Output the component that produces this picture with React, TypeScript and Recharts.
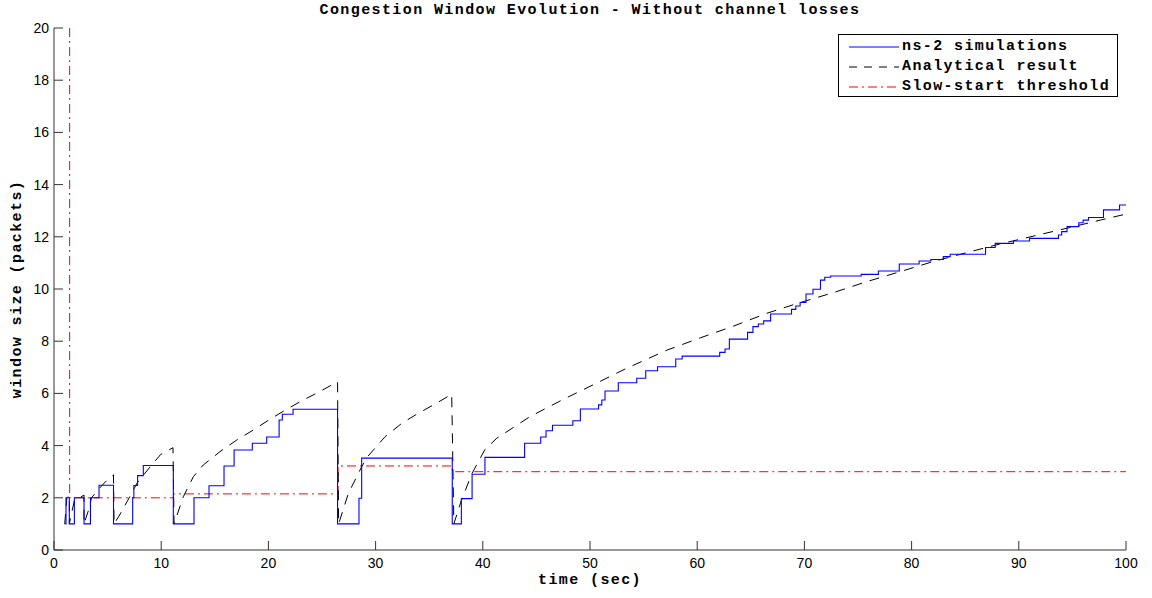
import { LineChart, Line, XAxis, YAxis } from 'recharts';

// ns-2 simulated congestion window: [time (s), window after change]
const simSteps: [number, number][] = [
  [1.0, 1], [1.12, 2], [1.43, 1], [1.9, 2], [2.8, 1], [3.4, 2], [4.2, 2.48], [5.55, 1],
  [7.34, 2.0], [7.45, 2.47], [7.8, 2.85], [8.33, 3.24], [11.13, 1], [13.06, 2.0], [14.46, 2.46],
  [15.86, 3.22], [16.8, 3.83], [18.5, 4.09], [19.84, 4.33], [21.0, 4.98], [21.3, 5.2], [22.3, 5.39],
  [26.45, 1], [28.45, 1.98], [28.7, 3.52], [37.15, 1], [38.0, 1.97], [39.0, 2.9], [40.2, 3.55],
  [43.9, 4.09], [45.4, 4.33], [45.9, 4.57], [46.5, 4.78], [48.4, 4.95], [49.1, 5.4], [50.8, 5.56],
  [51.1, 5.75], [51.4, 6.09], [52.64, 6.41], [54.36, 6.58], [55.2, 6.87], [56.3, 7.02], [58.0, 7.32],
  [58.6, 7.43], [62.1, 7.57], [62.6, 7.7], [63.0, 8.08], [64.7, 8.34], [65.2, 8.56], [65.7, 8.66],
  [66.2, 8.78], [66.85, 9.04], [68.8, 9.22], [69.2, 9.35], [69.6, 9.48], [70.15, 9.81], [70.8, 9.99],
  [71.5, 10.34], [71.9, 10.45], [72.45, 10.5], [75.3, 10.56], [76.9, 10.69], [78.85, 10.96],
  [80.7, 11.07], [81.8, 11.13], [82.96, 11.24], [83.6, 11.33], [86.9, 11.59], [87.8, 11.75],
  [89.5, 11.84], [91.0, 11.94], [93.7, 12.07], [94.0, 12.2], [94.5, 12.39], [95.6, 12.54],
  [96.0, 12.64], [96.5, 12.74], [97.9, 13.03], [99.4, 13.22], [100, 13.22],
];

// analytical model, piecewise curve with drops at loss events
const analytical: [number, number][] = [
  [1.0, 1.0], [1.2, 2.0], [1.43, 2.1], [1.43, 1.0], [1.9, 1.9], [2.8, 2.1], [2.8, 1.0], [3.2, 1.5],
  [3.5, 2.0], [4.2, 2.35], [5.0, 2.7], [5.55, 2.88], [5.6, 1.0], [6.06, 1.3], [6.84, 1.87],
  [7.77, 2.58], [9.0, 3.2], [9.95, 3.66], [11.1, 3.92], [11.2, 1.0], [12.06, 2.04], [13.0, 2.81],
  [13.93, 3.26], [15.49, 3.77], [17.04, 4.21], [18.6, 4.6], [20.15, 5.01], [21.7, 5.39],
  [23.26, 5.75], [24.8, 6.07], [26.45, 6.45], [26.55, 1.0], [27.46, 2.17], [28.7, 3.19],
  [29.3, 3.6], [30.88, 4.34], [32.43, 4.85], [33.98, 5.24], [35.54, 5.59], [37.1, 5.97],
  [37.3, 1.0], [38.0, 1.9], [39.0, 2.94], [40.2, 3.85], [41.3, 4.28], [44.4, 5.11], [47.5, 5.77],
  [50.6, 6.39], [53.4, 6.96], [57.2, 7.66], [60.3, 8.13], [63.4, 8.58], [66.5, 9.07], [69.6, 9.48],
  [72.7, 9.86], [75.8, 10.28], [78.9, 10.66], [82.0, 11.05], [85.1, 11.39], [88.2, 11.72],
  [91.4, 12.03], [94.5, 12.33], [97.6, 12.64], [100, 12.87],
];

// slow-start threshold (held until the next loss event)
const ssthresh: [number, number][] = [
  [1.46, 20], [1.46, 2.0], [11.15, 2.15], [26.5, 3.22], [37.15, 3.0], [100, 3.0],
];

const xTicks = [0, 10, 20, 30, 40, 50, 60, 70, 80, 90, 100];
const yTicks = [0, 2, 4, 6, 8, 10, 12, 14, 16, 18, 20];

const toRows = (pts: [number, number][]) => pts.map(([t, v]) => ({ t, v }));

const mono = '"Liberation Mono", "DejaVu Sans Mono", monospace';
const sans = '"Liberation Sans", Arial, sans-serif';

function XTick(props: any) {
  const { x, y, payload } = props;
  return (
    <g>
      <line x1={x} y1={y} x2={x} y2={y - 9} stroke="#333" />
      <text x={x} y={y + 18} textAnchor="middle" fontFamily={sans} fontSize={14} fill="#000">{payload.value}</text>
    </g>
  );
}

function YTick(props: any) {
  const { x, y, payload } = props;
  return (
    <g>
      <line x1={x} y1={y} x2={x + 9} y2={y} stroke="#333" />
      <text x={x - 5} y={y + 5} textAnchor="end" fontFamily={sans} fontSize={14} fill="#000">{payload.value}</text>
    </g>
  );
}

const labelStyle = { fontFamily: mono, fontWeight: 700, fontSize: 15, letterSpacing: 1.4, color: '#000', whiteSpace: 'nowrap' as const };

export default function App() {
  return (
    <div style={{ position: 'absolute', left: 0, top: 0, width: 1152, height: 598, background: '#fff' }}>
      <LineChart width={1152} height={598} margin={{ top: 28, right: 26, bottom: 0, left: 0 }}>
        <XAxis type="number" dataKey="t" domain={[0, 100]} ticks={xTicks} height={48} tickSize={0} tickMargin={0}
          tickLine={false} axisLine={{ stroke: '#333' }} tick={XTick} allowDuplicatedCategory={false} />
        <YAxis type="number" dataKey="v" domain={[0, 20]} ticks={yTicks} width={54} tickSize={0} tickMargin={0}
          tickLine={false} axisLine={{ stroke: '#333' }} tick={YTick} />
        <Line data={toRows(ssthresh)} dataKey="v" type="stepAfter" stroke="#ff0000" strokeWidth={1}
          strokeDasharray="9 4 2 4" dot={false} isAnimationActive={false} />
        <Line data={toRows(analytical)} dataKey="v" type="linear" stroke="#000" strokeWidth={1}
          strokeDasharray="10 8" dot={false} isAnimationActive={false} />
        <Line data={toRows(simSteps)} dataKey="v" type="stepAfter" stroke="#0000ff" strokeWidth={1.1}
          dot={false} isAnimationActive={false} />
      </LineChart>

      <div style={{ ...labelStyle, position: 'absolute', top: 2, left: 54, width: 1072, textAlign: 'center' }}>
        Congestion Window Evolution - Without channel losses
      </div>
      <div style={{ ...labelStyle, position: 'absolute', top: 572, left: 54, width: 1072, textAlign: 'center' }}>
        time (sec)
      </div>
      <div style={{ ...labelStyle, position: 'absolute', left: 17, top: 289, transform: 'translate(-50%, -50%) rotate(-90deg)' }}>
        window size (packets)
      </div>

      <div style={{ position: 'absolute', left: 838, top: 34, width: 278, height: 61, border: '1px solid #000', background: '#fff' }}>
        <svg width={278} height={61} style={{ position: 'absolute', left: 0, top: 0 }}>
          <line x1={10} y1={12} x2={60} y2={12} stroke="#0000ff" strokeWidth={1.1} />
          <line x1={10} y1={32} x2={60} y2={32} stroke="#000" strokeDasharray="8 7" />
          <line x1={10} y1={52} x2={60} y2={52} stroke="#ff0000" strokeDasharray="9 4 2 4" />
        </svg>
        {['ns-2 simulations', 'Analytical result', 'Slow-start threshold'].map((s, i) => (
          <div key={s} style={{ ...labelStyle, position: 'absolute', left: 63, top: 2 + i * 20, lineHeight: '20px' }}>{s}</div>
        ))}
      </div>
    </div>
  );
}
